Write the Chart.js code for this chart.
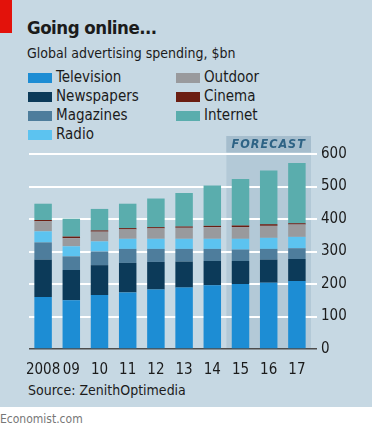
<!DOCTYPE html>
<html>
<head>
<meta charset="utf-8">
<script src="https://cdn.jsdelivr.net/npm/chart.js@4"></script>
<style>
  body { margin: 0; width: 374px; height: 432px; background: #fff; position: relative; overflow: hidden;
         font-family: "DejaVu Sans Condensed", "Noto Sans", sans-serif; color: #1b1b1b; }
  .panel { position: absolute; left: 0; top: 0; width: 372px; height: 407px; background: #c6d8e3; }
  .red { position: absolute; left: 0; top: 0; width: 12px; height: 33px; background: #e3120b; }
  .t { position: absolute; white-space: nowrap; }
  #title { left: 27px; top: 17px; font-size: 18.5px; font-weight: bold; letter-spacing: -0.5px; }
  #sub { left: 27px; top: 45px; font-size: 14px; }
  .sw { position: absolute; width: 24px; height: 10px; }
  .lg { position: absolute; font-size: 15px; white-space: nowrap; }
  #src { left: 28px; top: 382px; font-size: 14px; }
  #eco { left: 0; top: 412px; font-size: 12px; color: #777; }
  canvas { position: absolute; left: 0; top: 0; }
</style>
</head>
<body>
<div class="panel"></div>
<div class="red"></div>
<div class="t" id="title">Going online...</div>
<div class="t" id="sub">Global advertising spending, $bn</div>
<div id="legend"></div>
<div class="t" id="src">Source: ZenithOptimedia</div>
<div class="t" id="eco">Economist.com</div>
<canvas id="chart" width="374" height="432"></canvas>
<script>
// Data ($bn)
const YEARS = ['2008', '09', '10', '11', '12', '13', '14', '15', '16', '17'];
const TELEVISION = [160, 150, 166, 174, 183, 189, 196, 200, 204, 209];
const NEWSPAPERS = [115, 93, 92, 91, 85, 80, 75, 71, 71, 68];
const MAGAZINES = [53, 42, 42, 43, 40, 39, 37, 35, 33, 33];
const RADIO = [34, 31, 31, 31, 31, 31, 31, 33, 34, 35];
const OUTDOOR = [31, 25, 30, 29, 32, 34, 36, 36, 37, 38];
const CINEMA = [4, 5, 4, 4, 4, 4, 4, 5, 5, 4];
const INTERNET = [50, 55, 66, 75, 88, 103, 124, 143, 165, 185];
const Y_TICKS = [0, 100, 200, 300, 400, 500, 600];
const FORECAST_FROM = 7; // index of first forecast year

const series = [
    { label: 'Television', data: TELEVISION, color: '#1d8dd4' },
    { label: 'Newspapers', data: NEWSPAPERS, color: '#0c3a59' },
    { label: 'Magazines', data: MAGAZINES, color: '#4e7d9c' },
    { label: 'Radio', data: RADIO, color: '#5cc3f0' },
    { label: 'Outdoor', data: OUTDOOR, color: '#999a9d' },
    { label: 'Cinema', data: CINEMA, color: '#6b1e12' },
    { label: 'Internet', data: INTERNET, color: '#5aadad' }
];

// HTML legend, two columns
const legendOrder = [
    ['Television', 28, 73], ['Newspapers', 28, 92], ['Magazines', 28, 111], ['Radio', 28, 130],
    ['Outdoor', 176, 73], ['Cinema', 176, 92], ['Internet', 176, 111]
];
const legendEl = document.getElementById('legend');
legendOrder.forEach(([name, x, y]) => {
    const s = series.find(d => d.label === name);
    legendEl.innerHTML += `<div class="sw" style="left:${x}px;top:${y}px;background:${s.color}"></div>` +
        `<div class="lg" style="left:${x + 28}px;top:${y - 5}px">${name}</div>`;
});

// Shaded forecast region with header label
const forecastBand = {
    id: 'forecastBand',
    beforeDraw(chart) {
        const { ctx, chartArea, scales: { x, y } } = chart;
        const half = (x.getPixelForValue(1) - x.getPixelForValue(0)) / 2;
        const left = x.getPixelForValue(FORECAST_FROM) - half;
        const right = chartArea.right;
        const top = y.getPixelForValue(600) - 18;
        ctx.save();
        ctx.fillStyle = '#b3c9d7';
        ctx.fillRect(left, top, right - left, chartArea.bottom - top);
        ctx.fillStyle = '#a5bdcd';
        ctx.fillRect(left, top, right - left, 16);
        ctx.fillStyle = '#2e6385';
        ctx.font = 'italic 600 12.5px "DejaVu Sans Condensed", sans-serif';
        ctx.textAlign = 'center';
        ctx.textBaseline = 'middle';
        if (ctx.letterSpacing !== undefined) ctx.letterSpacing = '1px';
        ctx.fillText('FORECAST', (left + right) / 2, top + 9);
        ctx.restore();
    }
};

new Chart(document.getElementById('chart'), {
    type: 'bar',
    data: {
        labels: YEARS,
        datasets: series.map(s => ({
            label: s.label,
            data: s.data,
            backgroundColor: s.color,
            borderWidth: 0,
            barPercentage: 0.62,
            categoryPercentage: 1
        }))
    },
    options: {
        responsive: false,
        animation: false,
        layout: { padding: { left: 29, top: 154, right: 0, bottom: 0 } },
        plugins: { legend: { display: false }, tooltip: { enabled: false } },
        scales: {
            x: {
                stacked: true,
                grid: { display: false },
                border: { display: false },
                ticks: { color: '#1b1b1b', padding: 4, maxRotation: 0, autoSkip: false,
                         font: { family: '"DejaVu Sans Condensed", sans-serif', size: 15 } },
                afterFit(scale) { scale.height = 83; }
            },
            y: {
                stacked: true,
                position: 'right',
                min: 0,
                max: 600,
                afterBuildTicks(scale) { scale.ticks = Y_TICKS.map(v => ({ value: v })); },
                grid: {
                    color: ctx => ctx.tick && ctx.tick.value === 0 ? '#4d4d4d' : '#ffffff',
                    lineWidth: ctx => ctx.tick && ctx.tick.value === 0 ? 1.5 : 2,
                    tickLength: 6,
                    drawTicks: true
                },
                border: { display: false },
                ticks: { color: '#1b1b1b', padding: 4,
                         font: { family: '"DejaVu Sans Condensed", sans-serif', size: 15 } },
                afterFit(scale) { scale.width = 63; }
            }
        }
    },
    plugins: [forecastBand]
});
</script>
</body>
</html>
